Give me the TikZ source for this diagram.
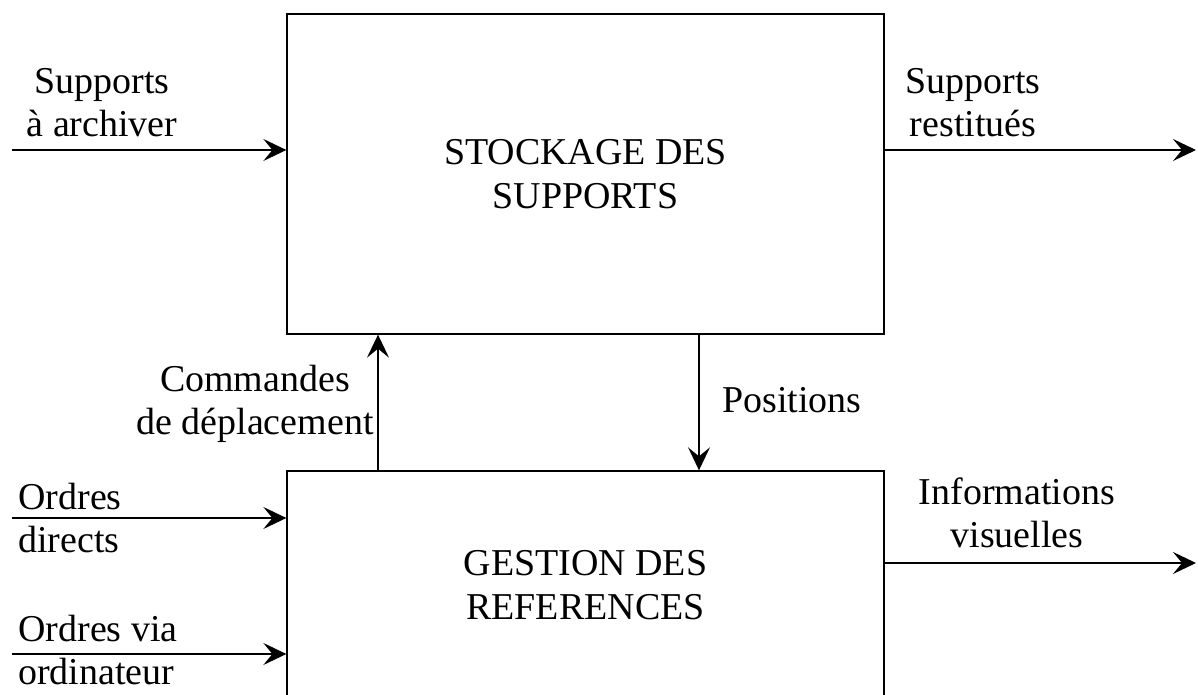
\documentclass[tikz,border=0pt]{standalone}
\usepackage{fontspec}
\setmainfont{Liberation Serif}
\usepackage{tikz}
\usetikzlibrary{arrows.meta, positioning}

\begin{document}
\begin{tikzpicture}[
    x=0.02cm, y=-0.02cm,
    block/.style={rectangle, draw, line width=0.8pt, minimum width=11.94cm, align=center},
    arrow/.style={-{Stealth[length=0.46cm, width=0.44cm, inset=0.18cm]}, line width=0.8pt},
    label/.style={inner sep=0pt, anchor=base, align=center},
    every node/.append style={font=\fontsize{21.6}{25}\selectfont}
    ]

    \useasboundingbox (0,0) rectangle (1198,695);
    \clip (0,0) rectangle (1198,695);

    % Define the blocks
    \node[block, minimum height=6.4cm] (stockage) at (585.5,174) {STOCKAGE DES\\SUPPORTS};
    \node[block, minimum height=4.56cm] (gestion) at (585.5,585) {GESTION DES\\REFERENCES};

    % Free ends of the arrows
    \coordinate (in1) at (12,150);
    \coordinate (out1) at (1196,150);
    \coordinate (in2) at (12,518);
    \coordinate (in3) at (12,654);
    \coordinate (out2) at (1196,563);

    % Connect the blocks
    \draw[arrow] (in1) -- (stockage.west |- in1);
    \draw[arrow] (stockage.east |- out1) -- (out1);
    \draw[arrow] (gestion.north -| 378,0) -- (stockage.south -| 378,0);
    \draw[arrow] (stockage.south -| 699,0) -- (gestion.north -| 699,0);
    \draw[arrow] (in2) -- (gestion.west |- in2);
    \draw[arrow] (in3) -- (gestion.west |- in3);
    \draw[arrow] (gestion.east |- out2) -- (out2);

    % Add the flow labels (base = last line)
    \node[label] (archiver) at (102,137) {Supports\\à archiver};
    \node[label] (restitues) at (973,137) {Supports\\restitués};
    \node[label] (commandes) at (255,435) {Commandes\\de déplacement};
    \node[label, anchor=base west] (positions) at (722,413) {Positions};
    \node[label, anchor=base west, align=left] (directs) at (18,553) {Ordres\\directs};
    \node[label, anchor=base west, align=left] (ordinateur) at (18,685) {Ordres via\\ordinateur};
    \node[label] (visuelles) at (1017,548) {Informations\\visuelles};

\end{tikzpicture}
\end{document}
